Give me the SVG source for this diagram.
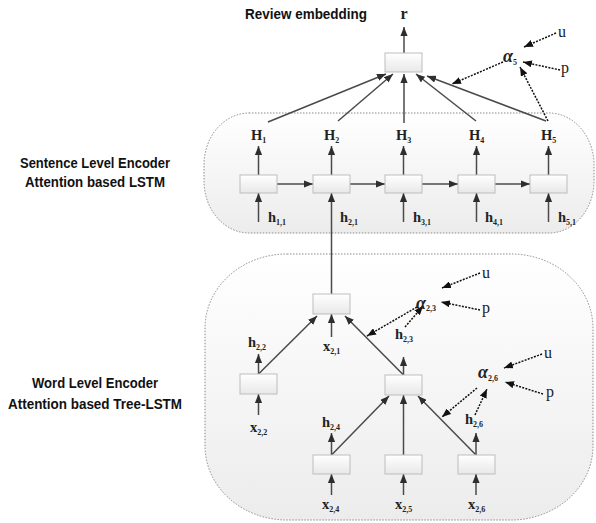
<svg xmlns="http://www.w3.org/2000/svg" width="596" height="523" viewBox="0 0 596 523">
  <defs>
    <linearGradient id="regionFill" x1="0" y1="0" x2="0" y2="1">
      <stop offset="0" stop-color="#ffffff"/>
      <stop offset="1" stop-color="#ececec"/>
    </linearGradient>
    <linearGradient id="boxFill" x1="0" y1="0" x2="0" y2="1">
      <stop offset="0" stop-color="#ffffff"/>
      <stop offset="1" stop-color="#e8e8e8"/>
    </linearGradient>
    <marker id="ah" viewBox="0 0 10 8" markerWidth="9" markerHeight="7.2" refX="10" refY="4" orient="auto" markerUnits="userSpaceOnUse">
      <path d="M0,0 L10,4 L0,8 Z" fill="#2e2e2e"/>
    </marker>
    <marker id="ahd" viewBox="0 0 10 8" markerWidth="9" markerHeight="7.2" refX="10" refY="4" orient="auto" markerUnits="userSpaceOnUse">
      <path d="M0,0 L10,4 L0,8 Z" fill="#111"/>
    </marker>
    <style>
      .region { fill: url(#regionFill); stroke: #8a8a8a; stroke-width: 1; stroke-dasharray: 1.5 1.5; }
      .box { fill: url(#boxFill); stroke: #bdbdbd; stroke-width: 1; }
      .solid { fill: none; stroke: #4a4a4a; stroke-width: 1.5; marker-end: url(#ah); }
      .dot { fill: none; stroke: #111; stroke-width: 1.5; stroke-dasharray: 2 1.3; marker-end: url(#ahd); }
      .title { font-family: "Liberation Sans", Arial, sans-serif; font-weight: bold; font-size: 14px; fill: #111; }
      .var { font-family: "Liberation Serif", "Times New Roman", serif; font-weight: bold; font-size: 14.5px; fill: #222; }
      .plainvar { font-family: "Liberation Serif", "Times New Roman", serif; font-size: 16px; fill: #222; }
      .alpha { font-family: "Liberation Serif", "Times New Roman", serif; font-style: italic; font-weight: bold; font-size: 18px; fill: #222; }
      .sub { font-size: 8px; }
    </style>
  </defs>

  <!-- encoder regions -->
  <g id="sentence-region">
    <rect class="region" x="204" y="113" width="390" height="120" rx="45" ry="52"/>
  </g>
  <g id="word-region">
    <rect class="region" x="205" y="254" width="388" height="266" rx="82" ry="74"/>
  </g>

  <!-- side titles -->
  <g id="titles">
    <text class="title" x="245" y="19" textLength="122" lengthAdjust="spacingAndGlyphs">Review embedding</text>
    <text class="title" x="20" y="168" textLength="150" lengthAdjust="spacingAndGlyphs">Sentence Level Encoder</text>
    <text class="title" x="25" y="187" textLength="140" lengthAdjust="spacingAndGlyphs">Attention based LSTM</text>
    <text class="title" x="32" y="388" textLength="126" lengthAdjust="spacingAndGlyphs">Word Level Encoder</text>
    <text class="title" x="8" y="409" textLength="174" lengthAdjust="spacingAndGlyphs">Attention based Tree-LSTM</text>
  </g>

  <!-- connectors -->
  <g id="connectors">
    <!-- review embedding output -->
    <line class="solid" x1="404" y1="53" x2="404" y2="27"/>
    <!-- H_i to review embedding -->
    <line class="solid" x1="268" y1="122" x2="386" y2="74"/>
    <line class="solid" x1="338" y1="121" x2="393" y2="74"/>
    <line class="solid" x1="404" y1="123" x2="404" y2="74"/>
    <line class="solid" x1="476" y1="121" x2="416" y2="74"/>
    <line class="solid" x1="546" y1="121" x2="427" y2="76"/>
    <!-- attention alpha_5 -->
    <line class="dot" x1="556" y1="33" x2="524" y2="47"/>
    <line class="dot" x1="560" y1="70" x2="523" y2="62"/>
    <line class="dot" x1="503" y1="62" x2="452" y2="84"/>
    <line class="dot" x1="548" y1="121" x2="520" y2="67"/>
    <!-- LSTM outputs -->
    <line class="solid" x1="258.5" y1="175" x2="258.5" y2="146"/>
    <line class="solid" x1="331.5" y1="175" x2="331.5" y2="146"/>
    <line class="solid" x1="403.5" y1="175" x2="403.5" y2="146"/>
    <line class="solid" x1="476.5" y1="175" x2="476.5" y2="146"/>
    <line class="solid" x1="548.5" y1="175" x2="548.5" y2="146"/>
    <!-- LSTM recurrence -->
    <line class="solid" x1="277" y1="184" x2="313" y2="184"/>
    <line class="solid" x1="350" y1="184" x2="385" y2="184"/>
    <line class="solid" x1="422" y1="184" x2="458" y2="184"/>
    <line class="solid" x1="495" y1="184" x2="530" y2="184"/>
    <!-- LSTM inputs -->
    <line class="solid" x1="258.5" y1="222" x2="258.5" y2="193"/>
    <line class="solid" x1="331.5" y1="294" x2="331.5" y2="193"/>
    <line class="solid" x1="403.5" y1="222" x2="403.5" y2="193"/>
    <line class="solid" x1="476.5" y1="222" x2="476.5" y2="193"/>
    <line class="solid" x1="548.5" y1="222" x2="548.5" y2="193"/>

    <!-- tree: root inputs -->
    <line class="solid" x1="331.5" y1="337" x2="331.5" y2="314"/>
    <line class="solid" x1="258.5" y1="374" x2="317" y2="316"/>
    <line class="solid" x1="403.5" y1="375" x2="345" y2="316"/>
    <!-- left leaf -->
    <line class="solid" x1="258.5" y1="374" x2="258.5" y2="354"/>
    <line class="solid" x1="258.5" y1="415" x2="258.5" y2="394"/>
    <!-- middle node -->
    <line class="solid" x1="403.5" y1="375" x2="403.5" y2="357"/>
    <line class="solid" x1="331.5" y1="455" x2="389" y2="396"/>
    <line class="solid" x1="403.5" y1="455" x2="403.5" y2="395"/>
    <line class="solid" x1="476" y1="455" x2="418" y2="396"/>
    <!-- bottom leaves -->
    <line class="solid" x1="331.5" y1="455" x2="331.5" y2="433"/>
    <line class="solid" x1="476" y1="455" x2="476" y2="433"/>
    <line class="solid" x1="331.5" y1="495" x2="331.5" y2="474"/>
    <line class="solid" x1="403.5" y1="495" x2="403.5" y2="474"/>
    <line class="solid" x1="476" y1="495" x2="476" y2="474"/>
    <!-- attention alpha_2,3 -->
    <line class="dot" x1="480" y1="273" x2="442" y2="288"/>
    <line class="dot" x1="480" y1="310" x2="441" y2="302"/>
    <line class="dot" x1="417" y1="307" x2="367" y2="336"/>
    <line class="dot" x1="405" y1="327" x2="423" y2="306"/>
    <!-- attention alpha_2,6 -->
    <line class="dot" x1="542" y1="354" x2="504" y2="368"/>
    <line class="dot" x1="543" y1="394" x2="505" y2="382"/>
    <line class="dot" x1="477" y1="388" x2="442" y2="417"/>
    <line class="dot" x1="475" y1="415" x2="487" y2="389"/>
  </g>

  <!-- review embedding node -->
  <g id="review-node">
    <rect class="box" x="385" y="53" width="37" height="19"/>
    <text class="plainvar" x="404" y="19" text-anchor="middle" font-size="19" font-weight="bold">r</text>
  </g>
  <g id="alpha-5">
    <text class="alpha" x="503" y="62">α<tspan class="sub" font-style="normal" dy="3">5</tspan></text>
    <text class="plainvar" x="558" y="37">u</text>
    <text class="plainvar" x="561" y="73">p</text>
  </g>

  <!-- sentence-level LSTM cells -->
  <g id="lstm-1">
    <rect class="box" x="240" y="175" width="37" height="18"/>
    <text class="var" x="251" y="140">H<tspan class="sub" dy="3">1</tspan></text>
    <text class="var" x="268" y="222">h<tspan class="sub" dy="3">1,1</tspan></text>
  </g>
  <g id="lstm-2">
    <rect class="box" x="313" y="175" width="37" height="18"/>
    <text class="var" x="324" y="140">H<tspan class="sub" dy="3">2</tspan></text>
    <text class="var" x="340" y="222">h<tspan class="sub" dy="3">2,1</tspan></text>
  </g>
  <g id="lstm-3">
    <rect class="box" x="385" y="175" width="37" height="18"/>
    <text class="var" x="396" y="140">H<tspan class="sub" dy="3">3</tspan></text>
    <text class="var" x="413" y="222">h<tspan class="sub" dy="3">3,1</tspan></text>
  </g>
  <g id="lstm-4">
    <rect class="box" x="458" y="175" width="37" height="18"/>
    <text class="var" x="469" y="140">H<tspan class="sub" dy="3">4</tspan></text>
    <text class="var" x="485" y="222">h<tspan class="sub" dy="3">4,1</tspan></text>
  </g>
  <g id="lstm-5">
    <rect class="box" x="530" y="175" width="37" height="18"/>
    <text class="var" x="541" y="140">H<tspan class="sub" dy="3">5</tspan></text>
    <text class="var" x="558" y="222">h<tspan class="sub" dy="3">5,1</tspan></text>
  </g>

  <!-- word-level tree cells -->
  <g id="tree-root">
    <rect class="box" x="313" y="294" width="37" height="20"/>
    <text class="var" x="323" y="351">x<tspan class="sub" dy="3">2,1</tspan></text>
  </g>
  <g id="tree-leaf-2">
    <rect class="box" x="240" y="374" width="37" height="20"/>
    <text class="var" x="248" y="347">h<tspan class="sub" dy="3">2,2</tspan></text>
    <text class="var" x="250" y="432">x<tspan class="sub" dy="3">2,2</tspan></text>
  </g>
  <g id="tree-node-3">
    <rect class="box" x="385" y="375" width="37" height="20"/>
    <text class="var" x="395" y="339">h<tspan class="sub" dy="3">2,3</tspan></text>
  </g>
  <g id="alpha-23">
    <text class="alpha" x="416" y="309">α<tspan class="sub" font-style="normal" dy="2">2,3</tspan></text>
    <text class="plainvar" x="482" y="278">u</text>
    <text class="plainvar" x="482" y="313">p</text>
  </g>
  <g id="alpha-26">
    <text class="alpha" x="478" y="378">α<tspan class="sub" font-style="normal" dy="3">2,6</tspan></text>
    <text class="plainvar" x="544" y="358">u</text>
    <text class="plainvar" x="546" y="397">p</text>
  </g>
  <g id="tree-leaf-4">
    <rect class="box" x="313" y="455" width="37" height="19"/>
    <text class="var" x="322" y="427">h<tspan class="sub" dy="3">2,4</tspan></text>
    <text class="var" x="322" y="509">x<tspan class="sub" dy="3">2,4</tspan></text>
  </g>
  <g id="tree-leaf-5">
    <rect class="box" x="385" y="455" width="37" height="19"/>
    <text class="var" x="395" y="509">x<tspan class="sub" dy="3">2,5</tspan></text>
  </g>
  <g id="tree-leaf-6">
    <rect class="box" x="458" y="455" width="37" height="19"/>
    <text class="var" x="465" y="424">h<tspan class="sub" dy="3">2,6</tspan></text>
    <text class="var" x="468" y="509">x<tspan class="sub" dy="3">2,6</tspan></text>
  </g>
</svg>
